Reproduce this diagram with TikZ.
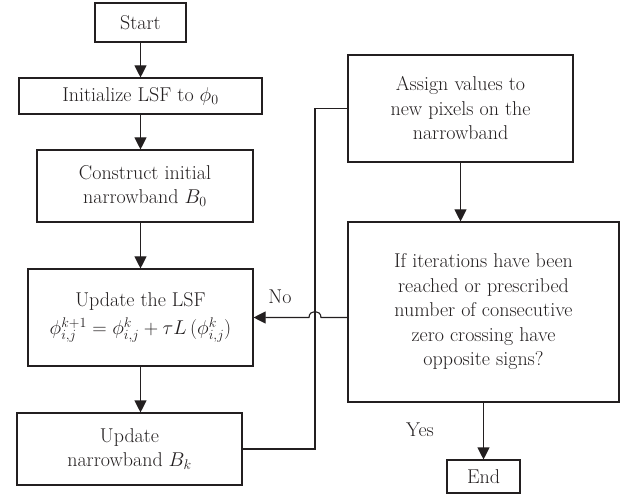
\RequirePackage{fix-cm}
\documentclass[tikz,border=0pt]{standalone}
\usetikzlibrary{arrows.meta}
\definecolor{ink}{RGB}{35,31,32}
\begin{document}
\begin{tikzpicture}[x=1pt,y=-1pt,
  every node/.style={font=\fontsize{20}{24.5}\selectfont, text=ink},
  box/.style={draw=ink, line width=1.1pt, align=center, inner sep=0pt},
  conn/.style={draw=ink, line width=1.1pt},
  arr/.style={conn, -{Triangle[length=12pt,width=12pt]}},
  lbl/.style={inner sep=0pt}]
\useasboundingbox (0,0) rectangle (626,494);
\node[box, minimum width=91pt, minimum height=39pt] (start) at (140.5,22.5) {Start};
\node[box, minimum width=243pt, minimum height=36pt] (init) at (140.5,96) {Initialize LSF to $\phi_0$};
\node[box, minimum width=216pt, minimum height=72pt] (cons) at (145,186) {Construct initial\\narrowband $B_0$};
\node[box, minimum width=225pt, minimum height=97pt] (lsf) at (140.5,317.5) {Update the LSF\\[3pt]$\phi^{k+1}_{i,j} = \phi^{k}_{i,j} + \tau L\,(\phi^{k}_{i,j})$};
\node[box, minimum width=225pt, minimum height=72pt] (nb) at (129.5,449) {Update\\narrowband $B_k$};
\node[box, minimum width=225pt, minimum height=107pt] (assign) at (460.5,108.5) {Assign values to\\new pixels on the\\narrowband};
\node[box, minimum width=271pt, minimum height=180pt] (dec) at (483.5,312) {If iterations have been\\reached or prescribed\\number of consecutive\\zero crossing have\\opposite signs?};
\node[box, minimum width=73pt, minimum height=33pt] (end) at (483.5,476.5) {End};
\node[lbl] (no) at (280,297) {No};
\node[lbl] (yes) at (420,430) {Yes};
\coordinate (jx) at (315,0);
\coordinate (ja) at (321,317.5);
\coordinate (jb) at (309,317.5);
\draw[arr] (start.south -| 140.5,0) -- (start.south |- init.north);
\draw[arr] (init.south) -- (init.south |- cons.north);
\draw[arr] (init.south |- cons.south) -- (init.south |- lsf.north);
\draw[arr] (lsf.south) -- (lsf.south |- nb.north);
\draw[conn] (nb.east) -| (jx |- assign.west) -- (assign.west);
\draw[arr] (assign.south) -- (assign.south |- dec.north);
\draw[arr] (dec.south) -- (end.north);
\draw[arr] (dec.west |- lsf.east) -- (ja) .. controls (321,309.5) and (309,309.5) .. (jb) -- (lsf.east);
\end{tikzpicture}
\end{document}
